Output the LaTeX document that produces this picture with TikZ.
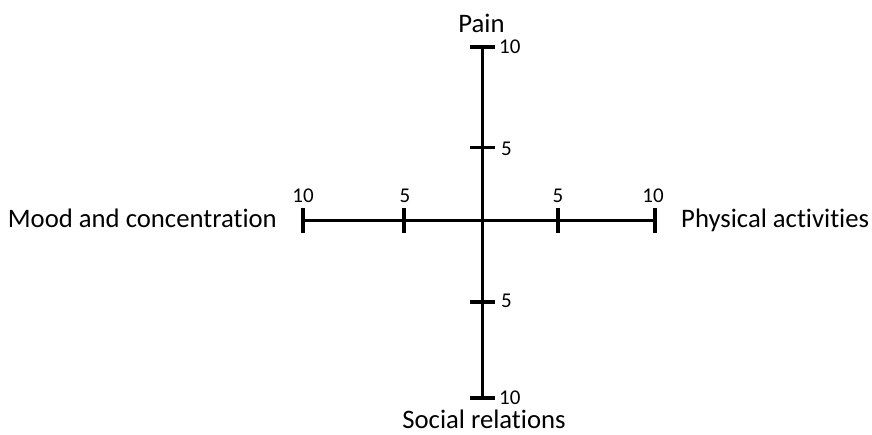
\documentclass[tikz,border=0pt]{standalone}
\usepackage{fontspec}
\setmainfont{Carlito}[RawFeature=-liga]
\begin{document}
\begin{tikzpicture}[x=1pt,y=-1pt,
  axis/.style={line width=3.6pt},
  tick/.style={line width=3.6pt},
  num/.style={font=\fontsize{21}{23}\selectfont, inner sep=0pt},
  lab/.style={font=\fontsize{26.7}{30}\selectfont, inner sep=0pt}]
\useasboundingbox (0,0) rectangle (872,434);
% axis end points
\coordinate (c) at (482.5,220.5);
\coordinate (top) at (482.5,47);
\coordinate (bot) at (482.5,398);
\coordinate (lft) at (303,220.5);
\coordinate (rgt) at (655,220.5);
\coordinate (t5) at (482.5,147.5);
\coordinate (b5) at (482.5,302);
\coordinate (l5) at (404,220.5);
\coordinate (r5) at (558,220.5);
\draw[axis] (top) -- (bot);
\draw[axis] (lft) -- (rgt);
% ticks
\foreach \p in {top,bot,t5,b5}
  \draw[tick] ([xshift=-12.5pt]\p) -- ([xshift=12.5pt]\p);
\foreach \p in {lft,rgt,l5,r5}
  \draw[tick] ([yshift=-12.5pt]\p) -- ([yshift=12.5pt]\p);
% numbers
\node[num, anchor=base west] (ntop) at (499,53) {10};
\node[num, anchor=base west] (nt5) at (501,155) {5};
\node[num, anchor=base west] (nb5) at (501,307) {5};
\node[num, anchor=base west] (nbot) at (499,404) {10};
\node[num, anchor=base] (nlft) at (303,202) {10};
\node[num, anchor=base] (nl5) at (405,202) {5};
\node[num, anchor=base] (nr5) at (558,202) {5};
\node[num, anchor=base] (nrgt) at (653,202) {10};
% labels
\node[lab, anchor=base] (pain) at (481.5,32) {Pain};
\node[lab, anchor=base, text depth=0pt] (soc) at (484,428.5) {Social relations};
\node[lab, anchor=base east] (mood) at (277,227) {Mood and concentration};
\node[lab, anchor=base west] (phys) at (681,227) {Physical activities};
\end{tikzpicture}
\end{document}
